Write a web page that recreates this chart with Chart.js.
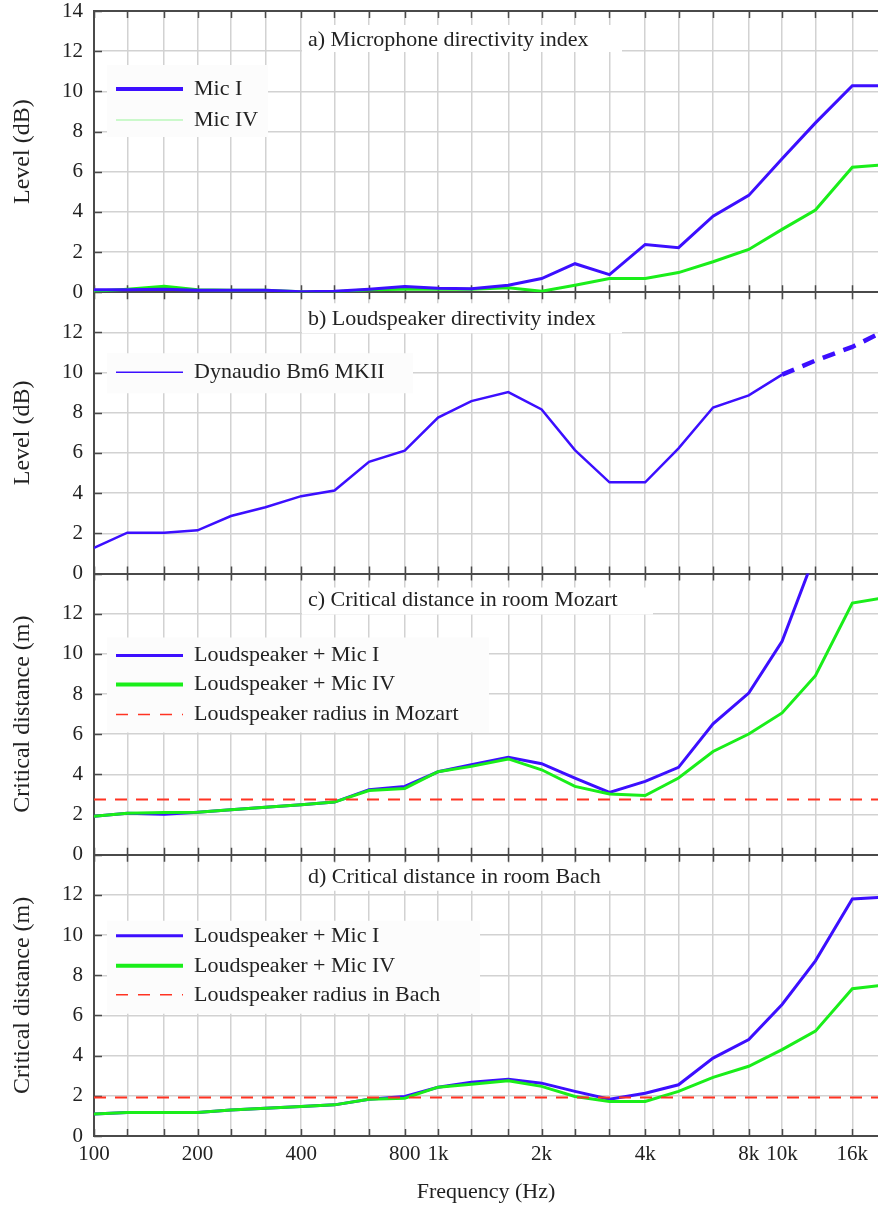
<!DOCTYPE html>
<html>
<head>
<meta charset="utf-8">
<script src="https://cdn.jsdelivr.net/npm/chart.js@4/dist/chart.umd.min.js"></script>
<style>
html,body{margin:0;padding:0;background:#fff;overflow:hidden}
#wrap{position:relative;width:878px;height:1205px}
canvas{display:block}
</style>
</head>
<body>
<div id="wrap"><canvas id="c" width="878" height="1205"></canvas></div>
<script>
// ---------- data ----------
const freqs = [100,125,160,200,250,315,400,500,630,800,1000,1250,1600,2000,2500,3150,4000,5000,6300,8000,10000,12500,16000,20000];
const labeledFreqs = [100,200,400,800,1000,2000,4000,8000,10000,16000];
const labeledText  = ['100','200','400','800','1k','2k','4k','8k','10k','16k'];
const yTickValues  = [0,2,4,6,8,10,12,14];

// a) Microphone directivity index (dB)
const micI_DI  = [0.12,0.12,0.15,0.1,0.1,0.1,0.03,0.05,0.15,0.28,0.2,0.18,0.35,0.68,1.42,0.88,2.38,2.22,3.79,4.82,6.64,8.43,10.28,10.28];
const micIV_DI = [0.05,0.15,0.3,0.12,0.1,0.1,0.02,0.02,0.12,0.15,0.15,0.15,0.22,0.05,0.35,0.68,0.68,0.98,1.52,2.13,3.13,4.09,6.22,6.35];
// b) Loudspeaker directivity index (dB)
const speakerDI = [1.27,2.03,2.03,2.15,2.86,3.3,3.85,4.13,5.56,6.11,7.76,8.58,9.03,8.17,6.14,4.54,4.54,6.23,8.26,8.87,9.9,10.6,11.28,12.1];
const speakerMeasuredUpTo = 10000; // beyond: dashed
// c) Critical distance, room Mozart (m)
const mozartMicI  = [1.91,2.07,2.02,2.12,2.24,2.37,2.49,2.62,3.24,3.4,4.13,4.48,4.85,4.53,3.82,3.1,3.65,4.35,6.52,8.05,10.62,15.0,21.0,21.0];
const mozartMicIV = [1.91,2.07,2.1,2.12,2.24,2.37,2.49,2.62,3.2,3.3,4.13,4.4,4.77,4.23,3.4,3.02,2.95,3.82,5.14,6.01,7.06,8.91,12.53,12.8];
const mozartRadius = 2.75;
// d) Critical distance, room Bach (m)
const bachMicI  = [1.1,1.17,1.17,1.17,1.3,1.38,1.47,1.55,1.83,1.97,2.43,2.68,2.83,2.63,2.22,1.83,2.13,2.55,3.88,4.8,6.55,8.72,11.8,11.9];
const bachMicIV = [1.1,1.17,1.17,1.17,1.3,1.38,1.47,1.55,1.83,1.88,2.43,2.58,2.75,2.47,1.97,1.72,1.72,2.22,2.92,3.47,4.3,5.22,7.33,7.53];
const bachRadius = 1.92;

// ---------- style ----------
const FONT = "'Liberation Serif','Times New Roman',serif";
const TXT = '#222222';
const AXIS = '#4a4a4a';
const GRID = '#d2d2d2';
const BLUE = '#3c0fff';
const GREEN = '#1aee1a';
const RED = '#ff3322';

const pts = (vals) => vals.map((v, i) => ({x: freqs[i], y: v}));
const flat = (v) => [{x: freqs[0], y: v}, {x: freqs[freqs.length - 1], y: v}];

const datasets = [
  {label:'Mic I', data: pts(micI_DI), yAxisID:'ya', borderColor: BLUE, borderWidth: 3},
  {label:'Mic IV', data: pts(micIV_DI), yAxisID:'ya', borderColor: GREEN, borderWidth: 3},
  {label:'Dynaudio Bm6 MKII', data: pts(speakerDI), yAxisID:'yb', borderColor: BLUE, borderWidth: 2.5,
    segment: {
      borderDash: c => c.p0.parsed.x >= speakerMeasuredUpTo ? [13, 9] : undefined,
      borderWidth: c => c.p0.parsed.x >= speakerMeasuredUpTo ? 4.5 : undefined
    }},
  {label:'Loudspeaker radius in Mozart', data: flat(mozartRadius), yAxisID:'yc', borderColor: RED, borderWidth: 2, borderDash:[12, 9]},
  {label:'Loudspeaker + Mic IV', data: pts(mozartMicIV), yAxisID:'yc', borderColor: GREEN, borderWidth: 3},
  {label:'Loudspeaker + Mic I', data: pts(mozartMicI), yAxisID:'yc', borderColor: BLUE, borderWidth: 3},
  {label:'Loudspeaker radius in Bach', data: flat(bachRadius), yAxisID:'yd', borderColor: RED, borderWidth: 2, borderDash:[12, 9]},
  {label:'Loudspeaker + Mic IV', data: pts(bachMicIV), yAxisID:'yd', borderColor: GREEN, borderWidth: 3},
  {label:'Loudspeaker + Mic I', data: pts(bachMicI), yAxisID:'yd', borderColor: BLUE, borderWidth: 3}
];
datasets.forEach(d => { d.pointRadius = 0; d.tension = 0; d.fill = false; });

// panel annotations (layout only)
const PANELS = [
  {id:'ya', title:'a) Microphone directivity index', titleBox:[302,14,622,41], titleY:29,
   legendBox:[107,54,268,126], legend:[
     {text:'Mic I', color: BLUE, width: 4, dash: [], y:78},
     {text:'Mic IV', color:'#9af59a', width: 1, dash: [], y:109}]},
  {id:'yb', title:'b) Loudspeaker directivity index', titleBox:[302,11,622,41], titleY:27,
   legendBox:[107,61,413,101], legend:[
     {text:'Dynaudio Bm6 MKII', color: BLUE, width: 1.5, dash: [], y:80}]},
  {id:'yc', title:'c) Critical distance in room Mozart', titleBox:[302,14,653,41], titleY:27,
   legendBox:[107,64,489,159], legend:[
     {text:'Loudspeaker + Mic I', color: BLUE, width: 3, dash: [], y:82},
     {text:'Loudspeaker + Mic IV', color: GREEN, width: 4, dash: [], y:111},
     {text:'Loudspeaker radius in Mozart', color: RED, width: 1.5, dash: [12, 10], y:141}]},
  {id:'yd', title:'d) Critical distance in room Bach', titleBox:[302,8,643,36], titleY:22,
   legendBox:[107,66,480,159], legend:[
     {text:'Loudspeaker + Mic I', color: BLUE, width: 3, dash: [], y:81},
     {text:'Loudspeaker + Mic IV', color: GREEN, width: 4, dash: [], y:111},
     {text:'Loudspeaker radius in Bach', color: RED, width: 1.5, dash: [12, 10], y:140}]}
];
const yTitles = {ya:'Level (dB)', yb:'Level (dB)', yc:'Critical distance (m)', yd:'Critical distance (m)'};

function yScale(id, idx) {
  return {
    type:'linear', position:'left', stack:'panels', stackWeight:1, weight: 4 - idx,
    min:0, max:14,
    afterBuildTicks: s => { s.ticks = yTickValues.map(v => ({value: v})); },
    ticks: {
      autoSkip: false,
      padding: 0, color: TXT, font: {family: FONT, size: 21, lineHeight: 1},
      callback: v => (v === 14 && idx > 0) ? '' : String(v)
    },
    grid: {
      drawTicks: true, tickLength: 11, tickColor: 'rgba(0,0,0,0)',
      color: c => (c.tick && (c.tick.value === 0 || c.tick.value === 14)) ? AXIS : GRID,
      lineWidth: c => (c.tick && (c.tick.value === 0 || c.tick.value === 14)) ? 2 : 1.5
    },
    border: {display: true, color: AXIS, width: 2},
    title: {display: true, text: yTitles[id], color: TXT, font: {family: FONT, size: 24}, padding: {top: 8, bottom: 0}},
    afterFit: s => { s.width = 94; }
  };
}

const innerTicks = {
  id: 'innerTicks',
  beforeDatasetsDraw(chart) {
    const ctx = chart.ctx;
    const xs = chart.scales.x;
    ctx.save();
    ctx.strokeStyle = AXIS;
    ctx.lineWidth = 1.5;
    ctx.setLineDash([]);
    ctx.beginPath();
    PANELS.forEach(p => {
      const ys = chart.scales[p.id];
      xs.ticks.forEach(t => {
        const px = Math.round(xs.getPixelForValue(t.value)) + 0.5;
        ctx.moveTo(px, ys.top); ctx.lineTo(px, ys.top + 7);
        ctx.moveTo(px, ys.bottom); ctx.lineTo(px, ys.bottom - 7);
      });
      ys.ticks.forEach(t => {
        const py = Math.round(ys.getPixelForValue(t.value)) + 0.5;
        ctx.moveTo(ys.right, py); ctx.lineTo(ys.right + 8, py);
      });
    });
    ctx.stroke();

    // titles and legends inside each panel
    PANELS.forEach(p => {
      const ys = chart.scales[p.id];
      const top = ys.top;
      ctx.fillStyle = '#ffffff';
      const tb = p.titleBox;
      ctx.fillRect(tb[0], top + tb[1], tb[2] - tb[0], tb[3] - tb[1]);
      const lb = p.legendBox;
      ctx.fillStyle = '#fcfcfc';
      ctx.fillRect(lb[0], top + lb[1], lb[2] - lb[0], lb[3] - lb[1]);
      ctx.fillStyle = TXT;
      ctx.font = '22px ' + FONT;
      ctx.textBaseline = 'middle';
      ctx.textAlign = 'left';
      ctx.fillText(p.title, 308, top + p.titleY);
      p.legend.forEach(e => {
        ctx.beginPath();
        ctx.strokeStyle = e.color;
        ctx.lineWidth = e.width;
        ctx.setLineDash(e.dash);
        ctx.moveTo(116, top + e.y);
        ctx.lineTo(183, top + e.y);
        ctx.stroke();
        ctx.setLineDash([]);
        ctx.fillStyle = TXT;
        ctx.fillText(e.text, 194, top + e.y);
      });
    });
    ctx.restore();
  }
};

const scales = {
  x: {
    type: 'logarithmic', position: 'bottom', min: 100, max: 19000,
    afterBuildTicks: s => { s.ticks = freqs.filter(f => f <= 16000).map(v => ({value: v})); },
    ticks: {
      autoSkip: false, maxRotation: 0, minRotation: 0, padding: 6, color: TXT,
      font: {family: FONT, size: 21},
      callback: v => { const i = labeledFreqs.indexOf(v); return i >= 0 ? labeledText[i] : ''; }
    },
    grid: {color: GRID, lineWidth: 1.5, drawTicks: false},
    border: {display: true, color: AXIS, width: 2},
    title: {display: true, text: 'Frequency (Hz)', color: TXT, font: {family: FONT, size: 22}, padding: {top: 0, bottom: 0}},
    afterFit: s => { s.height = 69; }
  }
};
PANELS.forEach((p, i) => { scales[p.id] = yScale(p.id, i); });

new Chart(document.getElementById('c'), {
  type: 'line',
  data: {datasets},
  options: {
    responsive: false,
    animation: false,
    devicePixelRatio: 1,
    layout: {padding: {top: 11, right: 0, left: 0, bottom: 0}},
    plugins: {legend: {display: false}, tooltip: {enabled: false}},
    scales
  },
  plugins: [innerTicks]
});
</script>
</body>
</html>
